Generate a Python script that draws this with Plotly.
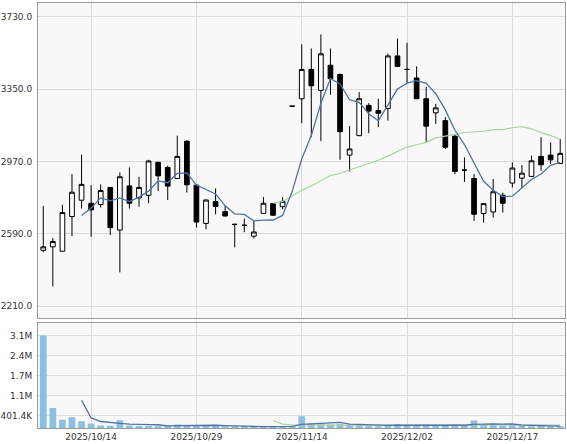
import plotly.graph_objects as go
import pandas as pd

dates = ["2025/10/06", "2025/10/07", "2025/10/08", "2025/10/09", "2025/10/10",
         "2025/10/14", "2025/10/15", "2025/10/16", "2025/10/17", "2025/10/20",
         "2025/10/21", "2025/10/22", "2025/10/23", "2025/10/24", "2025/10/27",
         "2025/10/28", "2025/10/29", "2025/10/30", "2025/10/31",
         "2025/11/04", "2025/11/05", "2025/11/06", "2025/11/07", "2025/11/10",
         "2025/11/11", "2025/11/12", "2025/11/13", "2025/11/14", "2025/11/17",
         "2025/11/18", "2025/11/19", "2025/11/20", "2025/11/21", "2025/11/25",
         "2025/11/26", "2025/11/27", "2025/11/28",
         "2025/12/01", "2025/12/02", "2025/12/03", "2025/12/04", "2025/12/05",
         "2025/12/08", "2025/12/09", "2025/12/10", "2025/12/11", "2025/12/12",
         "2025/12/15", "2025/12/16", "2025/12/17", "2025/12/18", "2025/12/19",
         "2025/12/22", "2025/12/23", "2025/12/24"]

opens = [2503, 2521, 2498, 2680, 2766, 2750, 2743, 2833, 2609, 2841,
         2778, 2792, 2965, 2938, 2880, 3076, 2845, 2644, 2759, 2706,
         2639, 2634, 2577, 2697, 2748, 2732, 3260, 3299, 3453, 3343,
         3475, 3427, 3003, 3105, 3264, 3237, 3248, 3524, 3453, 3408,
         3299, 3225, 3184, 3102, 2924, 2880, 2696, 2704, 2792, 2856,
         2882, 2891, 2996, 3003, 2959]
highs = [2736, 2567, 2742, 2903, 3005, 2845, 2849, 2835, 2912, 2938,
         2889, 2978, 2968, 2947, 3105, 3080, 2848, 2770, 2828, 2735,
         2641, 2669, 2657, 2783, 2750, 2783, 3260, 3585, 3563, 3637,
         3563, 3430, 3155, 3334, 3276, 3299, 3536, 3615, 3593, 3469,
         3362, 3272, 3202, 3114, 2991, 2903, 2750, 2877, 2806, 2965,
         2950, 3000, 3097, 3070, 3088]
lows = [2493, 2313, 2495, 2577, 2722, 2574, 2727, 2583, 2387, 2722,
        2732, 2750, 2815, 2767, 2878, 2806, 2622, 2613, 2692, 2680,
        2518, 2598, 2565, 2695, 2683, 2718, 3260, 3171, 3097, 3076,
        3320, 2978, 2917, 3103, 3118, 3149, 3184, 3467, 3378, 3297,
        3072, 3167, 3035, 2903, 2862, 2657, 2648, 2675, 2701, 2833,
        2828, 2890, 2920, 2956, 2956]
closes = [2521, 2549, 2701, 2808, 2849, 2715, 2817, 2622, 2889, 2750,
          2833, 2972, 2894, 2840, 2996, 2847, 2651, 2767, 2733, 2683,
          2639, 2634, 2599, 2750, 2687, 2760, 3260, 3453, 3367, 3535,
          3404, 3126, 3035, 3299, 3234, 3223, 3524, 3469, 3453, 3299,
          3155, 3251, 3044, 2917, 2924, 2692, 2748, 2810, 2750, 2935,
          2908, 2973, 2952, 2978, 3012]
volumes = [3080200, 668000, 279000, 356000, 223000, 146000, 80000, 75000, 256000, 80000,
           70000, 65000, 70000, 75000, 120000, 100000, 100000, 70000, 65000, 55000,
           45000, 40000, 45000, 60000, 50000, 70000, 50000, 389000, 150000, 140000,
           120000, 130000, 90000, 100000, 70000, 60000, 120000, 130000, 90000, 80000,
           120000, 70000, 80000, 120000, 70000, 250000, 130000, 110000, 80000, 100000,
           70000, 60000, 70000, 60000, 50000]

x_tick_labels = ["2025/10/14", "2025/10/29", "2025/11/14", "2025/12/02", "2025/12/17"]
price_ticks = [2210, 2590, 2970, 3350, 3730]
price_tick_labels = ["2210.0", "2590.0", "2970.0", "3350.0", "3730.0"]
vol_ticks = [401400, 1071100, 1740800, 2410500, 3080200]
vol_tick_labels = ["401.4K", "1.1M", "1.7M", "2.4M", "3.1M"]

xs = list(range(len(dates)))
tickvals = [dates.index(t) for t in x_tick_labels]

close_s = pd.Series(closes, dtype=float)
vol_s = pd.Series(volumes, dtype=float)
ma5 = close_s.rolling(5).mean()
ma25 = close_s.rolling(25).mean()
vma5 = vol_s.rolling(5).mean()
vma25 = vol_s.rolling(25).mean()

BLUE = "#4f72a8"
GREEN = "#a9d4a0"
GRID = "#dcdcdc"
FRAME = "#9a9a9a"
FONT = dict(family="DejaVu Sans", size=9, color="#333333")

fig = go.Figure()
fig.add_trace(go.Candlestick(
    x=xs, open=opens, high=highs, low=lows, close=closes,
    increasing=dict(line=dict(color="black", width=1), fillcolor="white"),
    decreasing=dict(line=dict(color="black", width=1), fillcolor="black"),
    showlegend=False, hoverinfo="skip", xaxis="x", yaxis="y"))
fig.add_trace(go.Scatter(x=xs, y=ma25, mode="lines", line=dict(color=GREEN, width=1.2),
                         showlegend=False, hoverinfo="skip", xaxis="x", yaxis="y"))
fig.add_trace(go.Scatter(x=xs, y=ma5, mode="lines", line=dict(color=BLUE, width=1.3),
                         showlegend=False, hoverinfo="skip", xaxis="x", yaxis="y"))

fig.add_trace(go.Bar(x=xs, y=volumes, marker=dict(color="#8cbfe4", line=dict(width=0)),
                     showlegend=False, hoverinfo="skip", xaxis="x2", yaxis="y2"))
fig.add_trace(go.Scatter(x=xs, y=vma25, mode="lines", line=dict(color=GREEN, width=1.2),
                         showlegend=False, hoverinfo="skip", xaxis="x2", yaxis="y2"))
fig.add_trace(go.Scatter(x=xs, y=vma5, mode="lines", line=dict(color=BLUE, width=1.3),
                         showlegend=False, hoverinfo="skip", xaxis="x2", yaxis="y2"))

xrange = [-0.55, len(dates) - 0.5]
common_x = dict(range=xrange, tickvals=tickvals, ticktext=x_tick_labels,
                showgrid=True, gridcolor=GRID, gridwidth=1, zeroline=False,
                showline=True, linecolor=FRAME, linewidth=1, mirror=True,
                ticks="", tickfont=FONT, fixedrange=True)

fig.update_layout(
    width=567, height=444,
    margin=dict(l=38, r=2, t=3, b=16, autoexpand=False),
    paper_bgcolor="white", plot_bgcolor="#f8f8f8",
    bargap=0.3, boxgap=0.3,
    xaxis=dict(common_x, domain=[0, 1], anchor="y", showticklabels=False,
               rangeslider=dict(visible=False)),
    yaxis=dict(domain=[0.2588, 1], range=[2147, 3802], tickvals=price_ticks,
               ticktext=price_tick_labels, showgrid=True, gridcolor=GRID, zeroline=False,
               showline=True, linecolor=FRAME, linewidth=1, mirror=True,
               ticks="", tickfont=FONT, ticklabelstandoff=3, fixedrange=True),
    xaxis2=dict(common_x, domain=[0, 1], anchor="y2", showticklabels=True),
    yaxis2=dict(domain=[0, 0.2464], range=[0, 3490000], tickvals=vol_ticks,
                ticktext=vol_tick_labels, showgrid=True, gridcolor=GRID, zeroline=False,
                showline=True, linecolor=FRAME, linewidth=1, mirror=True,
                ticks="", tickfont=FONT, ticklabelstandoff=3, fixedrange=True),
)

fig.write_html("out.html", config={"displayModeBar": False},
               post_script="document.body.style.margin='0';")
